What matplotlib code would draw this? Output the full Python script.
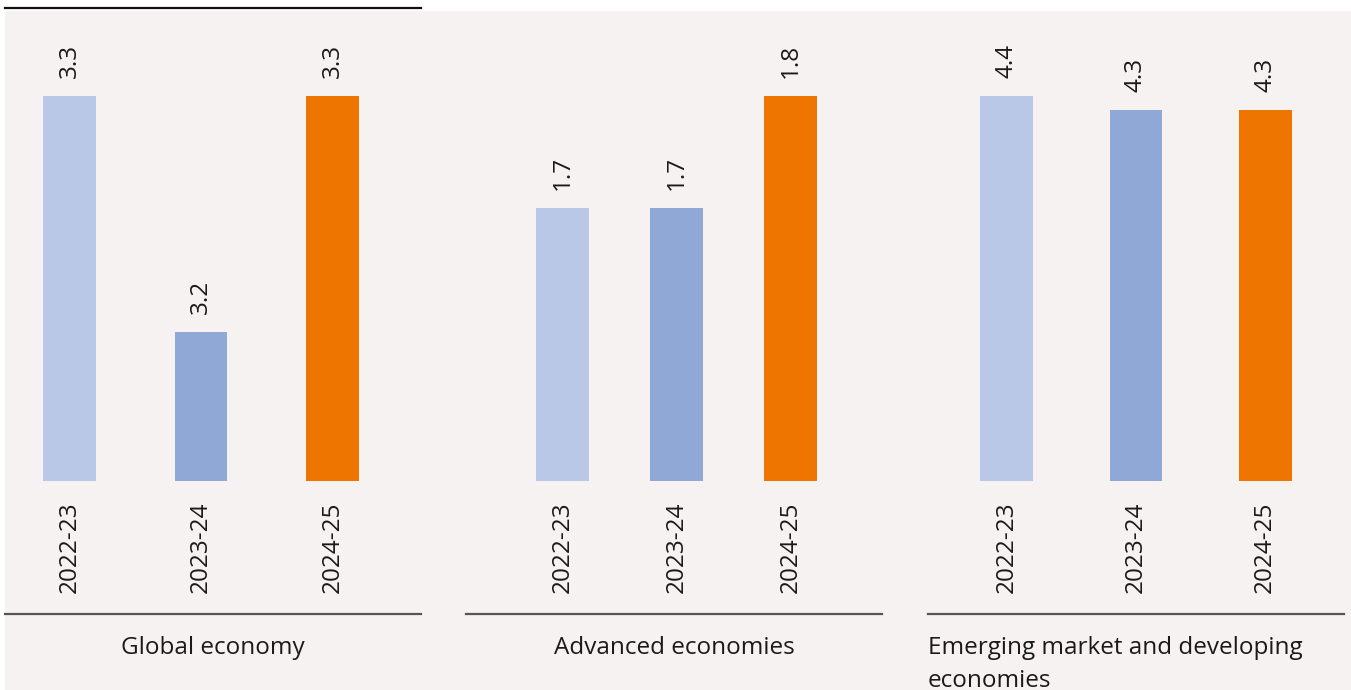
import matplotlib
matplotlib.use("Agg")
import matplotlib.pyplot as plt
from matplotlib.patches import Rectangle
from matplotlib.lines import Line2D

plt.rcParams['font.family'] = ['Open Sans', 'DejaVu Sans']

# ---------------- data ----------------
years = ["2022-23", "2023-24", "2024-25"]
panel_titles = ["Global economy", "Advanced economies", "Emerging market and developing\neconomies"]
global_vals = [3.3, 3.2, 3.3]
advanced_vals = [1.7, 1.7, 1.8]
emerging_vals = [4.4, 4.3, 4.3]
bar_colors = ["#bac8e7", "#8fa8d6", "#ee7600"]

# ---------------- layout (pixels) ----------------
W, H = 1351, 690
BG = "#f6f2f1"
FS = 17.5
fig = plt.figure(figsize=(W / 100, H / 100), dpi=100)
fig.patch.set_facecolor("white")
fig.add_artist(Rectangle((5 / W, 0), (W - 5) / W, (H - 11) / H, transform=fig.transFigure,
                         facecolor=BG, edgecolor="none", zorder=0))
# black rule top-left
fig.add_artist(Line2D([5 / W, 421 / W], [1 - 8 / H, 1 - 8 / H], transform=fig.transFigure,
                      color="#111111", lw=1.6))

top_px, base_px = 11, 481
panels = [
    # values, x-left px, xlim, bar width, ylim, title align
    (global_vals, 5, (-0.49, 2.67), 0.40, (3.137, 3.336), "center"),
    (advanced_vals, 466, (-0.846, 2.80), 0.465, (1.456, 1.876), "center"),
    (emerging_vals, 928, (-0.61, 2.61), 0.41, (1.65, 5.007), "left"),
]

for (vals, xl, xlim, bw, ylim, talign), title in zip(panels, panel_titles):
    ax = fig.add_axes([xl / W, 1 - base_px / H, 416 / W, (base_px - top_px) / H])
    ax.patch.set_alpha(0)
    x = range(len(years))
    ax.bar(x, vals, width=bw, color=bar_colors, bottom=0)
    ax.set_xlim(*xlim)
    ax.set_ylim(*ylim)
    for s in ax.spines.values():
        s.set_visible(False)
    ax.set_yticks([])
    ax.set_xticks(list(x))
    ax.set_xticklabels(years, rotation=90, fontsize=FS, color="#1a1a1a")
    ax.tick_params(axis="x", length=0, pad=15)
    for xi, v in zip(x, vals):
        ax.annotate(f"{v:.1f}", (xi, v), xytext=(0, 13), textcoords="offset points",
                    rotation=90, ha="center", va="bottom", fontsize=FS, color="#1a1a1a")
    # bottom rule
    yr = (base_px - 614) / (base_px - top_px)
    ax.add_line(Line2D([0, 1], [yr, yr], transform=ax.transAxes, color="#555555",
                       lw=1.6, clip_on=False))
    tx = 0.5 if talign == "center" else 0.0
    for i, line in enumerate(title.split("\n")):
        ty = (base_px - (648 + 33 * i)) / (base_px - top_px)
        ax.text(tx, ty, line, transform=ax.transAxes, ha=talign, va="center",
                fontsize=FS, color="#1a1a1a")

fig.savefig("out.png", dpi=100, facecolor=fig.get_facecolor())
